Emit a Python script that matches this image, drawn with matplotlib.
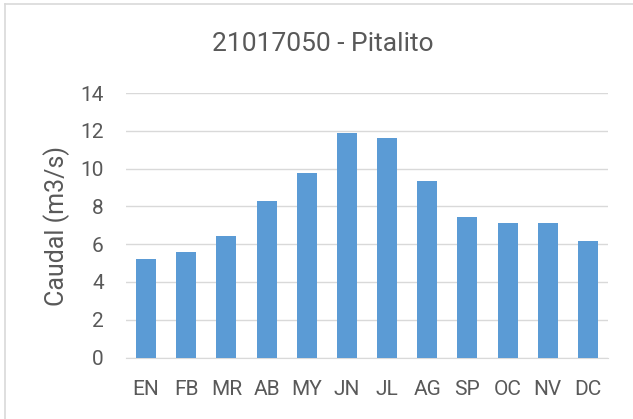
import matplotlib.pyplot as plt
import numpy as np

meses = ['EN', 'FB', 'MR', 'AB', 'MY', 'JN', 'JL', 'AG', 'SP', 'OC', 'NV', 'DC']
caudal = [5.21, 5.6, 6.45, 8.29, 9.77, 11.9, 11.62, 9.33, 7.42, 7.1, 7.12, 6.15]

plt.rcParams['font.family'] = ['Roboto', 'DejaVu Sans']
gris = '#595959'

fig = plt.figure(figsize=(6.33, 4.19), dpi=100)
ax = fig.add_axes([126/633, 1 - 357.5/419, (608 - 126)/633, (357.5 - 93)/419])

x = np.arange(len(meses))
ax.bar(x, caudal, width=0.5, color='#5B9BD5', zorder=3)
ax.set_xlim(-0.5, len(meses) - 0.5)
ax.set_ylim(0, 14)
ax.set_yticks(range(0, 15, 2))
ax.set_xticks(x)
ax.set_xticklabels(meses)
ax.grid(axis='y', color='#D9D9D9', lw=1, zorder=0)
for s in ['top', 'right', 'left']:
    ax.spines[s].set_visible(False)
ax.spines['bottom'].set_color('#D9D9D9')
ax.tick_params(length=0, labelsize=15, colors=gris)
ax.tick_params(axis='y', pad=16)
ax.tick_params(axis='x', pad=16)
fig.text(57/633, 1 - 226/419, 'Caudal (m3/s)', rotation=90, ha='center', va='center',
         fontsize=18, color=gris)

fig.text(323/633, 1 - 44/419, '21017050 - Pitalito', ha='center', va='center',
         fontsize=19, color=gris)

# chart frame
fig.add_artist(plt.Line2D([5/633, 5/633], [0, 1 - 4/419], transform=fig.transFigure,
                          color='#D9D9D9', lw=1.2))
fig.add_artist(plt.Line2D([5/633, 1], [1 - 4/419, 1 - 4/419], transform=fig.transFigure,
                          color='#D9D9D9', lw=1.2))

fig.savefig('out.png', dpi=100)
